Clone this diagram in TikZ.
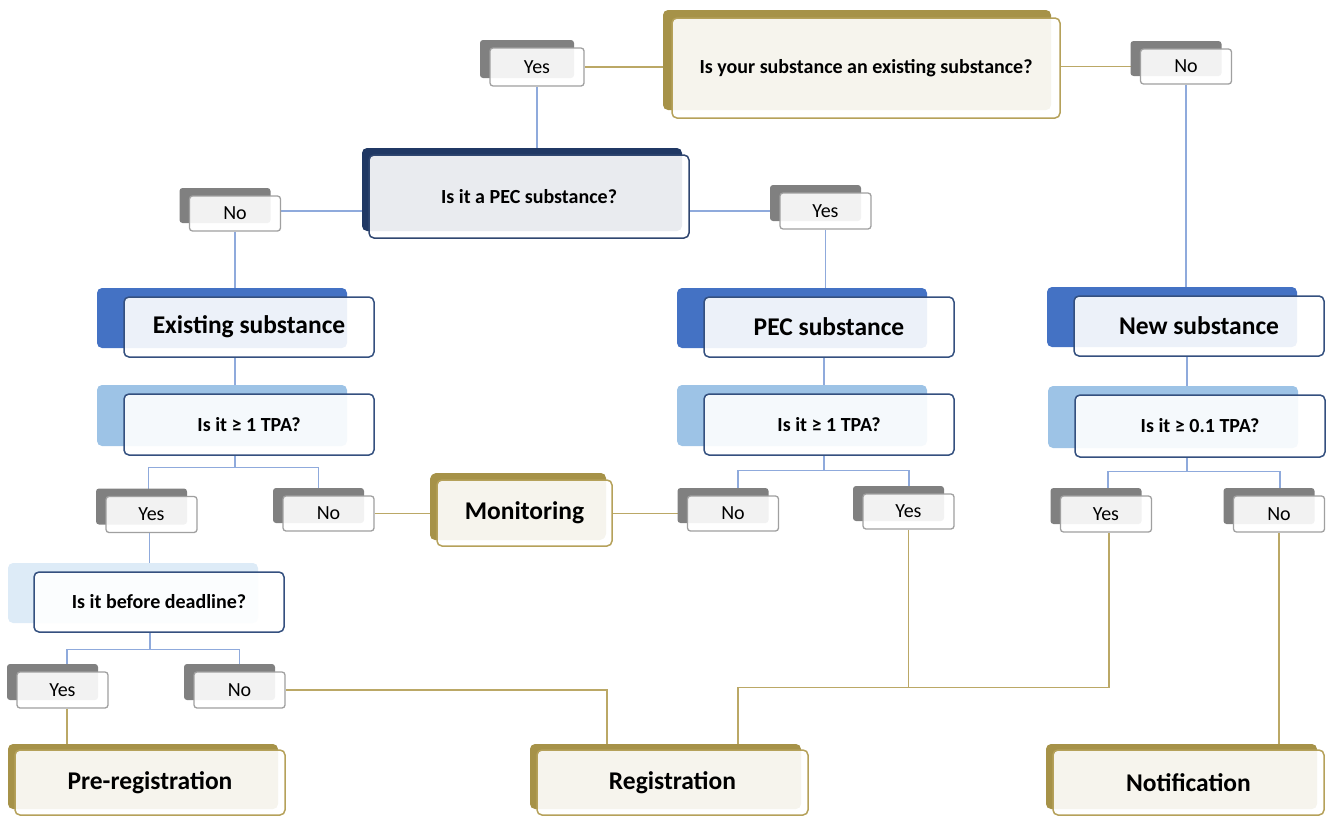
\documentclass[tikz,border=0pt]{standalone}
\usepackage{fontspec}
\setmainfont{Carlito}
\usetikzlibrary{shadows,backgrounds,calc}
\definecolor{oliveS}{HTML}{A69248}
\definecolor{oliveB}{HTML}{B5A15A}
\definecolor{oliveL}{HTML}{BBA866}
\definecolor{navyS}{HTML}{203864}
\definecolor{navyB}{HTML}{2F4670}
\definecolor{blueS}{HTML}{4472C4}
\definecolor{blueB}{HTML}{34507F}
\definecolor{lblueS}{HTML}{9DC3E6}
\definecolor{vlblueS}{HTML}{DDEBF7}
\definecolor{grayS}{HTML}{808080}
\definecolor{grayB}{HTML}{A0A0A0}
\definecolor{blueL}{HTML}{8FAADC}
\tikzset{
  box/.style={draw, line width=1.5pt, rounded corners=5pt, fill=white, fill opacity=0.9,
    text opacity=1, draw opacity=1, inner sep=0pt, align=center, text=black},
  bigfont/.style={font=\fontsize{25.5}{30}\selectfont\bfseries},
  midfont/.style={font=\fontsize{20}{24}\selectfont\bfseries},
  lab/.style={box, draw=grayB, line width=1.3pt, rounded corners=3pt, minimum width=91pt,
    minimum height=36pt, font=\fontsize{20}{24}\selectfont,
    general shadow={fill=grayS, fill opacity=1, shadow xshift=-10pt, shadow yshift=8pt}},
  goldbox/.style={box, draw=oliveB, bigfont, minimum width=271pt, minimum height=65pt,
    general shadow={fill=oliveS, fill opacity=1, shadow xshift=-7pt, shadow yshift=6pt}},
  bluebox/.style={box, draw=blueB, bigfont, minimum width=250pt, minimum height=60pt,
    general shadow={fill=blueS, fill opacity=1, shadow xshift=-27pt, shadow yshift=9pt}},
  tpabox/.style={box, draw=blueB, midfont, minimum width=250pt, minimum height=61pt,
    general shadow={fill=lblueS, fill opacity=1, shadow xshift=-27pt, shadow yshift=9pt}},
  bl/.style={draw=blueL, line width=1.4pt},
  ol/.style={draw=oliveL, line width=1.4pt},
}
\begin{document}
\begin{tikzpicture}[x=1pt,y=-1pt]
\useasboundingbox (0,0) rectangle (1326,817);
% main questions
\node[box, draw=oliveB, midfont, minimum width=388pt, minimum height=100pt,
  general shadow={fill=oliveS, fill opacity=1, shadow xshift=-9pt, shadow yshift=8pt}]
  (q1) at (866,68) {Is your substance an existing substance?};
\node[box, draw=navyB, midfont, minimum width=320pt, minimum height=83pt,
  general shadow={fill=navyS, fill opacity=1, shadow xshift=-7pt, shadow yshift=7pt}]
  (pecq) at (529,196.5) {Is it a PEC substance?};
% category boxes
\node[bluebox] (exs) at (249,327) {Existing substance};
\node[bluebox] (pecs) at (829,327) {PEC substance};
\node[bluebox] (news) at (1199,326) {New substance};
\node[tpabox] (tpa1) at (249,424.5) {Is it ≥ 1 TPA?};
\node[tpabox] (tpa2) at (829,424.5) {Is it ≥ 1 TPA?};
\node[tpabox, minimum height=62pt] (tpa3) at (1200,426) {Is it ≥ 0.1 TPA?};
\node[box, draw=blueB, midfont, minimum width=250pt, minimum height=60pt,
  general shadow={fill=vlblueS, fill opacity=1, shadow xshift=-26pt, shadow yshift=9pt}]
  (dl) at (159,602) {Is it before deadline?};
% outcomes
\node[goldbox, minimum width=175pt, minimum height=66pt,
  general shadow={fill=oliveS, fill opacity=1, shadow xshift=-6pt, shadow yshift=7pt}]
  (mon) at (524.5,513) {Monitoring};
\node[goldbox, minimum width=270pt] (prereg) at (150,782.5) {Pre-registration};
\node[goldbox] (reg) at (672.5,782.5) {Registration};
\node[goldbox] (notif) at (1188.5,782.5) {Notification};
% yes/no labels
\node[lab, minimum width=94pt, minimum height=38pt] (ty) at (537,67) {Yes};
\node[lab, minimum height=35pt] (tn) at (1186,66.5) {No};
\node[lab, minimum height=35pt] (pn) at (235,213.5) {No};
\node[lab] (py) at (825.5,211) {Yes};
\node[lab] (ey) at (151.5,514.5) {Yes};
\node[lab, minimum height=35pt] (en) at (328.5,513.5) {No};
\node[lab, minimum height=35pt] (p2n) at (733,513.5) {No};
\node[lab, minimum height=35pt] (p2y) at (908.5,511.5) {Yes};
\node[lab] (ny) at (1106,514) {Yes};
\node[lab] (nn) at (1279,514) {No};
\node[lab] (dy) at (62.5,690) {Yes};
\node[lab] (dn) at (239.5,690) {No};
% helper coordinates
\coordinate (rinR) at ([xshift=65.5pt]reg.north);
\coordinate (rinL) at ([xshift=-65.5pt]reg.north);
\coordinate (exsx) at ([xshift=-14pt]exs.south);
\coordinate (pecsx) at ([xshift=-5pt]pecs.south);
\coordinate (newsx) at ([xshift=-12pt]news.south);
\coordinate (eyx) at ([xshift=-2pt]ey.south);
\coordinate (dyx) at ([xshift=4.5pt]dy.south);
\coordinate (nyx) at ([xshift=3pt]ny.south);
\coordinate (pnx) at ([yshift=2.5pt]pn.east);
\begin{pgfonlayer}{background}
  % blue connectors
  \draw[bl] (ty.south) -- (ty.south |- pecq.north);
  \draw[bl] (pnx) -- (pnx -| pecq.west);
  \draw[bl] (py.west) -- (py.west -| pecq.east);
  \draw[bl] (pn.south) -- (pn.south |- exs.north);
  \draw[bl] (py.south) -- (py.south |- pecs.north);
  \draw[bl] (tn.south) -- (tn.south |- news.north);
  \draw[bl] (exsx) -- (exsx |- tpa1.north);
  \draw[bl] (pecsx) -- (pecsx |- tpa2.north);
  \draw[bl] (newsx) -- (newsx |- tpa3.north);
  \draw[bl] (exsx |- tpa1.south) -- ++(0,12) coordinate (b1);
  \draw[bl] ([xshift=-3pt]ey.north) |- (b1) -| ([xshift=-10pt]en.north);
  \draw[bl] (pecsx |- tpa2.south) -- ++(0,15) coordinate (b2);
  \draw[bl] ([xshift=5pt]p2n.north) |- (b2) -| ([xshift=0.5pt]p2y.north);
  \draw[bl] (newsx |- tpa3.south) -- ++(0,14) coordinate (b3);
  \draw[bl] ([xshift=2pt]ny.north) |- (b3) -| ([xshift=1pt]nn.north);
  \draw[bl] (eyx) -- (eyx |- dl.north);
  \draw[bl] ([xshift=-9pt]dl.south) -- ++(0,17) coordinate (b4);
  \draw[bl] ([xshift=4.5pt]dy.north) |- (b4) -| (dn.north);
  % olive connectors
  \draw[ol] (ty.east) -- (ty.east -| q1.west);
  \draw[ol] (tn.west) -- (tn.west -| q1.east);
  \draw[ol] (en.east) -- (en.east -| mon.west);
  \draw[ol] (p2n.west) -- (p2n.west -| mon.east);
  \draw[ol] (p2y.south) -- ++(0,158) coordinate (jr);
  \draw[ol] (nyx) |- (rinR |- jr) -- (rinR);
  \draw[ol] (dn.east) -| (rinL);
  \draw[ol] (dyx) -- (dyx |- prereg.north);
  \draw[ol] (nn.south) -- (nn.south |- notif.north);
\end{pgfonlayer}
\end{tikzpicture}
\end{document}
